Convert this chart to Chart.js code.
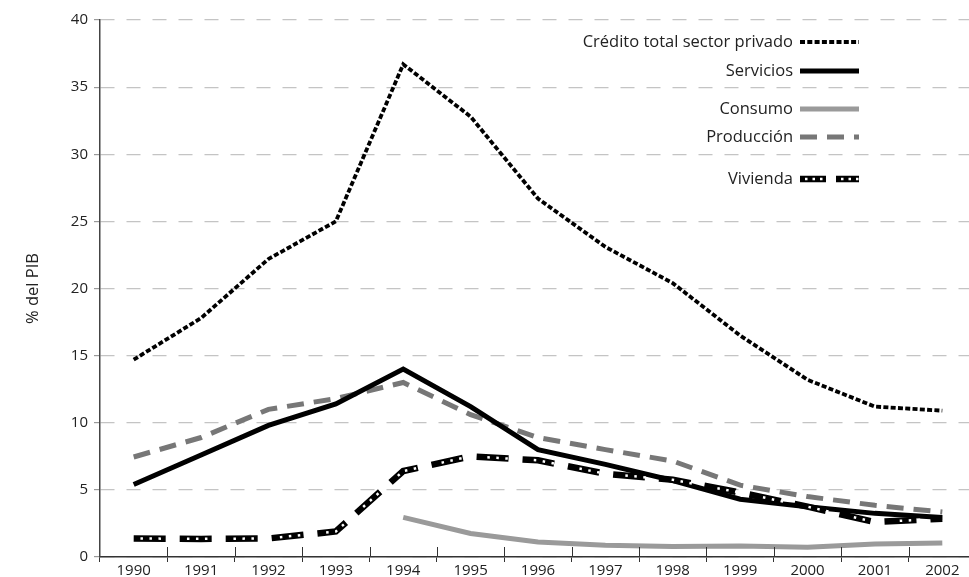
<!DOCTYPE html>
<html>
<head>
<meta charset="utf-8">
<script src="https://cdn.jsdelivr.net/npm/chart.js@4/dist/chart.umd.min.js"></script>
<style>
html,body{margin:0;padding:0;background:#fff;overflow:hidden;}
#wrap{width:976px;height:577px;}
</style>
</head>
<body>
<div id="wrap"><canvas id="c" width="976" height="577"></canvas></div>
<script>
const years = ['1990','1991','1992','1993','1994','1995','1996','1997','1998','1999','2000','2001','2002'];
const creditoTotal = [14.7, 17.8, 22.2, 25.0, 36.7, 32.8, 26.7, 23.1, 20.4, 16.5, 13.2, 11.2, 10.9];
const servicios    = [5.4, 7.6, 9.8, 11.4, 14.0, 11.2, 8.0, 6.9, 5.7, 4.3, 3.75, 3.25, 2.95];
const consumo      = [null, null, null, null, 2.95, 1.75, 1.12, 0.88, 0.78, 0.82, 0.72, 0.97, 1.05];
const produccion   = [7.45, 8.9, 11.0, 11.8, 13.0, 10.6, 8.9, 8.0, 7.15, 5.35, 4.5, 3.85, 3.35];
const vivienda     = [1.38, 1.35, 1.38, 1.9, 6.4, 7.5, 7.2, 6.2, 5.75, 4.8, 3.75, 2.6, 2.85];
const yTicks = [0, 5, 10, 15, 20, 25, 30, 35, 40];
const legendLabels = ['Crédito total sector privado', 'Servicios', 'Consumo', 'Producción', 'Vivienda'];

const FONT = "'Open Sans', 'DejaVu Sans', sans-serif";

const datasets = [
  {label: legendLabels[0], data: creditoTotal, borderColor:'#000', borderWidth:3.8, borderDash:[5,2.3], order:0},
  {label: legendLabels[1], data: servicios, borderColor:'#000', borderWidth:5, order:3},
  {label: legendLabels[2], data: consumo, borderColor:'#9a9a9a', borderWidth:5, order:5},
  {label: legendLabels[3], data: produccion, borderColor:'#777', borderWidth:5, borderDash:[17,10], order:4},
  {label: legendLabels[4], data: vivienda, borderColor:'#000', borderWidth:6.5, borderDash:[32,14], order:2},
  {label: 'vivienda-dots', data: vivienda, borderColor:'#fff', borderWidth:2.5, borderDash:[2.5,6.5,2.5,6.5,2.5,26], borderDashOffset:-6.75, order:1}
];
datasets.forEach(d => { d.pointRadius = 0; d.fill = false; d.tension = 0; d.spanGaps = false; });

const legendRows = [
  {ds:0, y:42}, {ds:1, y:71}, {ds:2, y:109}, {ds:3, y:137},
  {ds:4, y:179, dash:[26,10], overlay:5, overlayDash:[2.5,5,2.5,5,2.5,18.5], overlayOffset:-5}
];

const customLegend = {
  id:'customLegend',
  afterDraw(chart){
    const ctx = chart.ctx;
    ctx.save();
    ctx.font = "16.5px " + FONT;
    ctx.fillStyle = '#222';
    ctx.textAlign = 'right';
    ctx.textBaseline = 'middle';
    legendRows.forEach(r => {
      const d = chart.data.datasets[r.ds];
      ctx.fillText(d.label, 793, r.y);
      const draw = (ds, dash, off) => {
        ctx.save();
        ctx.strokeStyle = ds.borderColor;
        ctx.lineWidth = ds.borderWidth;
        ctx.setLineDash(dash || ds.borderDash || []);
        ctx.lineDashOffset = (off !== undefined ? off : (ds.borderDashOffset || 0));
        ctx.beginPath();
        ctx.moveTo(800, r.y);
        ctx.lineTo(859, r.y);
        ctx.stroke();
        ctx.restore();
      };
      draw(d, r.dash);
      if (r.overlay !== undefined) draw(chart.data.datasets[r.overlay], r.overlayDash, r.overlayOffset);
    });
    ctx.restore();
  }
};

const xTickUp = {
  id:'xTickUp',
  afterDraw(chart){
    const xs = chart.scales.x;
    const ctx = chart.ctx;
    const n = years.length;
    const w = (xs.getPixelForValue(1) - xs.getPixelForValue(0));
    ctx.save();
    ctx.strokeStyle = '#333';
    ctx.lineWidth = 1;
    for (let i = 1; i < n; i++) {
      const x = Math.round(xs.getPixelForValue(i) - w/2) + 0.5;
      ctx.beginPath();
      ctx.moveTo(x, xs.top - 10);
      ctx.lineTo(x, xs.top);
      ctx.stroke();
    }
    ctx.restore();
  }
};

new Chart(document.getElementById('c'), {
  type:'line',
  data:{labels: years, datasets},
  options:{
    responsive:false,
    animation:false,
    devicePixelRatio:1,
    layout:{padding:{top:20, right:0, bottom:0, left:0}},
    plugins:{legend:{display:false}, tooltip:{enabled:false}},
    scales:{
      x:{
        type:'category',
        offset:true,
        grid:{display:true, drawOnChartArea:false, drawTicks:true, tickLength:5, color:'#333', offset:true},
        border:{display:true, color:'#333', width:1.5},
        ticks:{color:'#222', font:{family:FONT, size:15}, padding:0, maxRotation:0, autoSkip:false},
        afterFit(s){ s.height = 20; }
      },
      y:{
        min:0, max:40,
        afterBuildTicks(s){ s.ticks = yTicks.map(v => ({value:v})); },
        grid:{color:'#c4c4c4', lineWidth:1.2, tickLength:6, tickColor:'#999', drawTicks:true},
        border:{display:true, color:'#444', width:1.5, dash:[14,12]},
        ticks:{color:'#222', font:{family:FONT, size:15}, padding:6},
        title:{display:true, text:'% del PIB', color:'#222', font:{family:FONT, size:16.5}, padding:{top:23, bottom:0}},
        afterFit(s){ s.width = 100; }
      }
    }
  },
  plugins:[customLegend, xTickUp]
});
</script>
</body>
</html>
